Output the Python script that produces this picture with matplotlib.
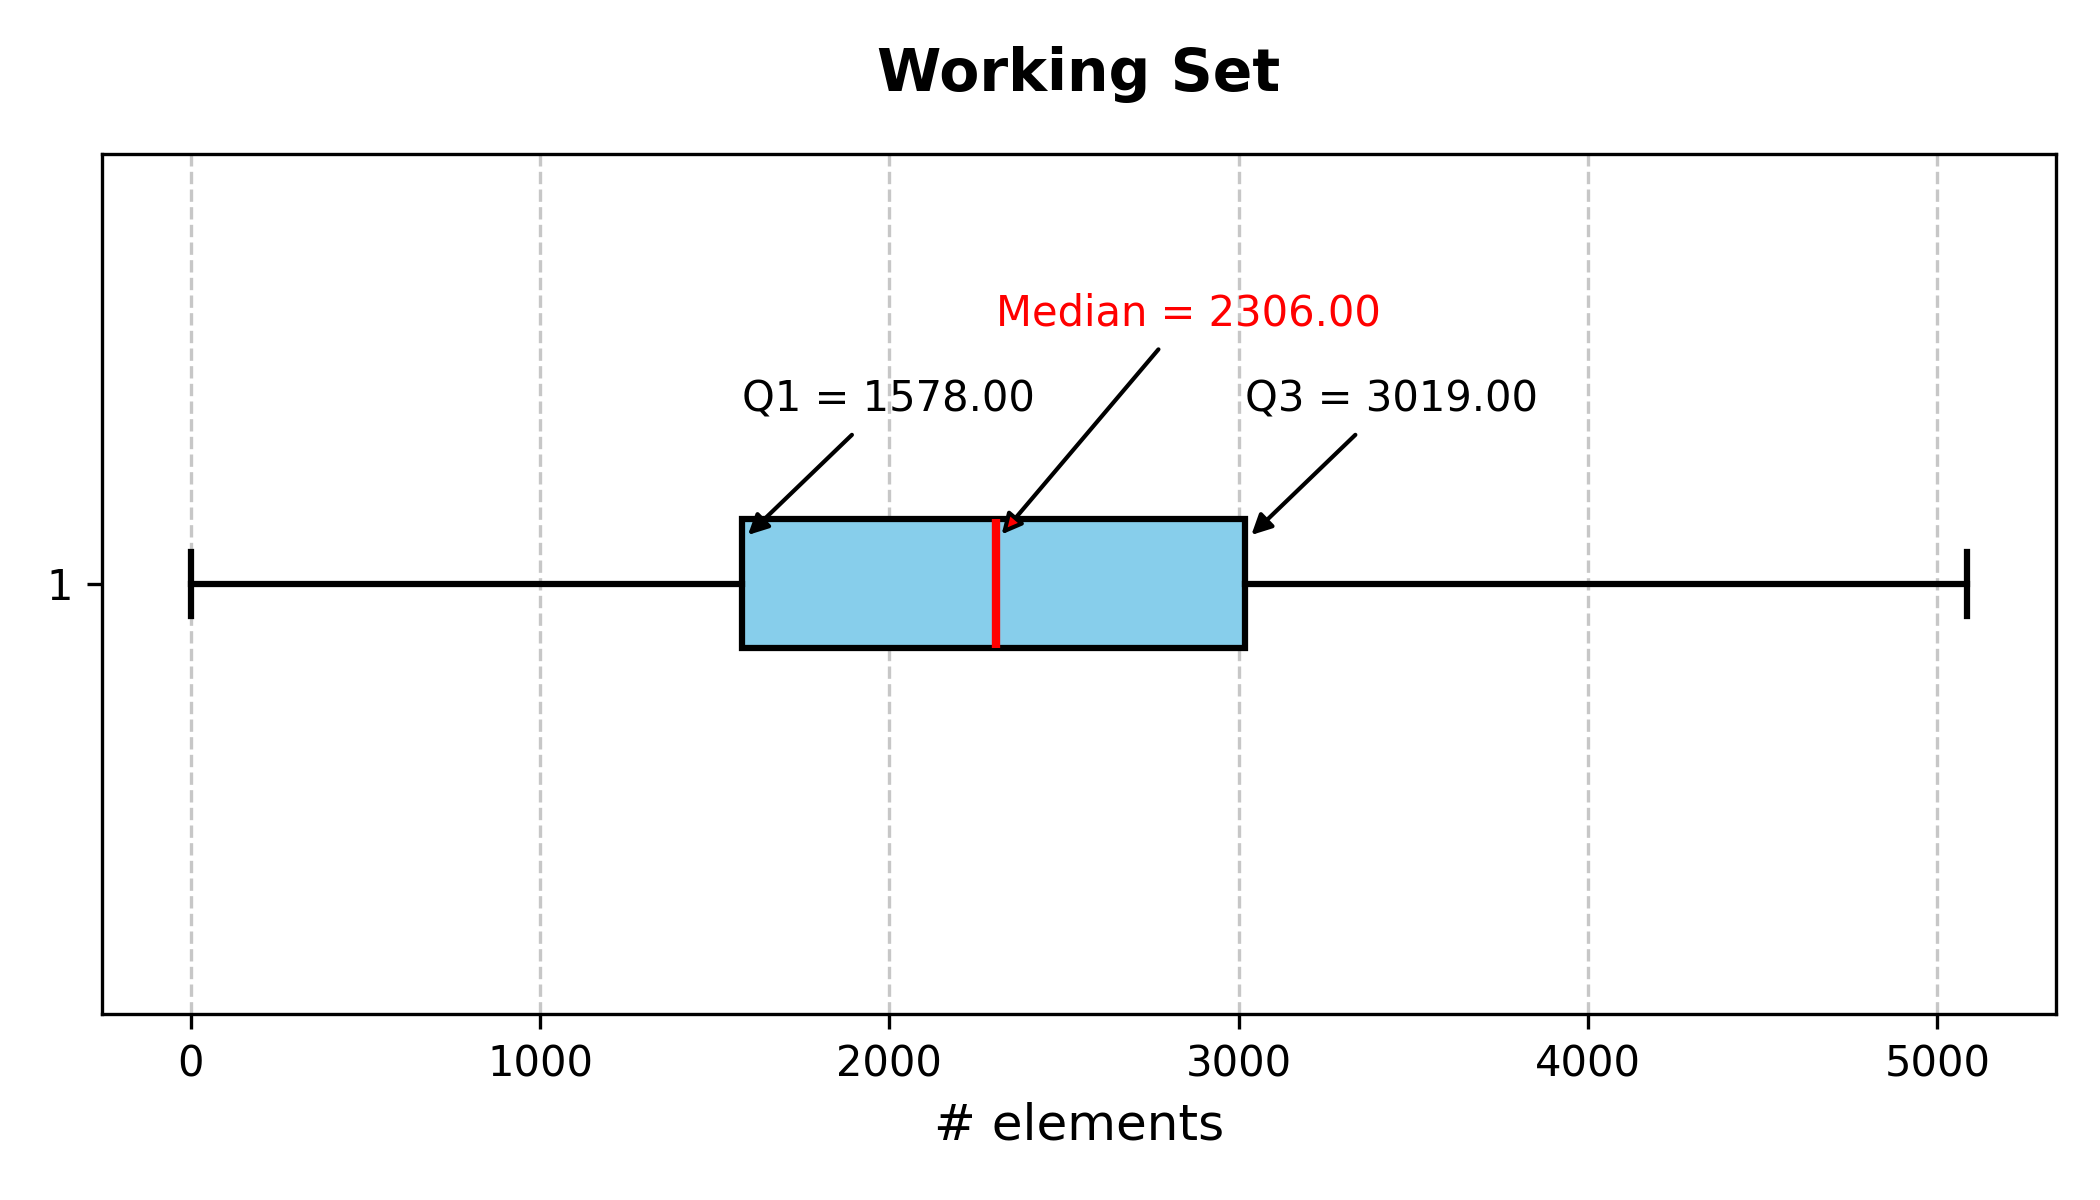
import matplotlib
matplotlib.use("Agg")
import matplotlib.pyplot as plt

# Data (summary statistics of the working set)
q1 = 1578.0
median = 2306.0
q3 = 3019.0
whisker_low = 0.0
whisker_high = 5085.0
box_label = "1"

title = "Working Set"
xlabel = "# elements"

fig, ax = plt.subplots(figsize=(7, 4), dpi=300)
fig.subplots_adjust(left=0.0485, right=0.979, top=0.872, bottom=0.155)

stats = [dict(med=median, q1=q1, q3=q3, whislo=whisker_low, whishi=whisker_high,
              fliers=[], label=box_label)]

kw = dict(
    positions=[1], widths=0.15, patch_artist=True, showfliers=False,
    boxprops=dict(facecolor="skyblue", edgecolor="black", linewidth=1.5),
    medianprops=dict(color="red", linewidth=2),
    whiskerprops=dict(color="black", linewidth=1.5),
    capprops=dict(color="black", linewidth=1.5),
)
try:
    ax.bxp(stats, orientation="horizontal", **kw)
except TypeError:
    ax.bxp(stats, vert=False, **kw)

ax.grid(axis="x", linestyle="--", alpha=0.7)
ax.set_axisbelow(True)

ax.annotate(f"Q1 = {q1:.2f}", xy=(q1, 1.05), xytext=(q1, 1.2), fontsize=10,
            arrowprops=dict(arrowstyle="-|>", facecolor="black", edgecolor="black"))
ax.annotate(f"Median = {median:.2f}", xy=(median, 1.05), xytext=(median, 1.3),
            fontsize=10, color="red",
            arrowprops=dict(arrowstyle="-|>", facecolor="red", edgecolor="black"))
ax.annotate(f"Q3 = {q3:.2f}", xy=(q3, 1.05), xytext=(q3, 1.2), fontsize=10,
            arrowprops=dict(arrowstyle="-|>", facecolor="black", edgecolor="black"))

ax.set_title(title, fontsize=14, fontweight="bold", pad=15)
ax.set_xlabel(xlabel, fontsize=12)

fig.savefig("out.png", dpi=300)
